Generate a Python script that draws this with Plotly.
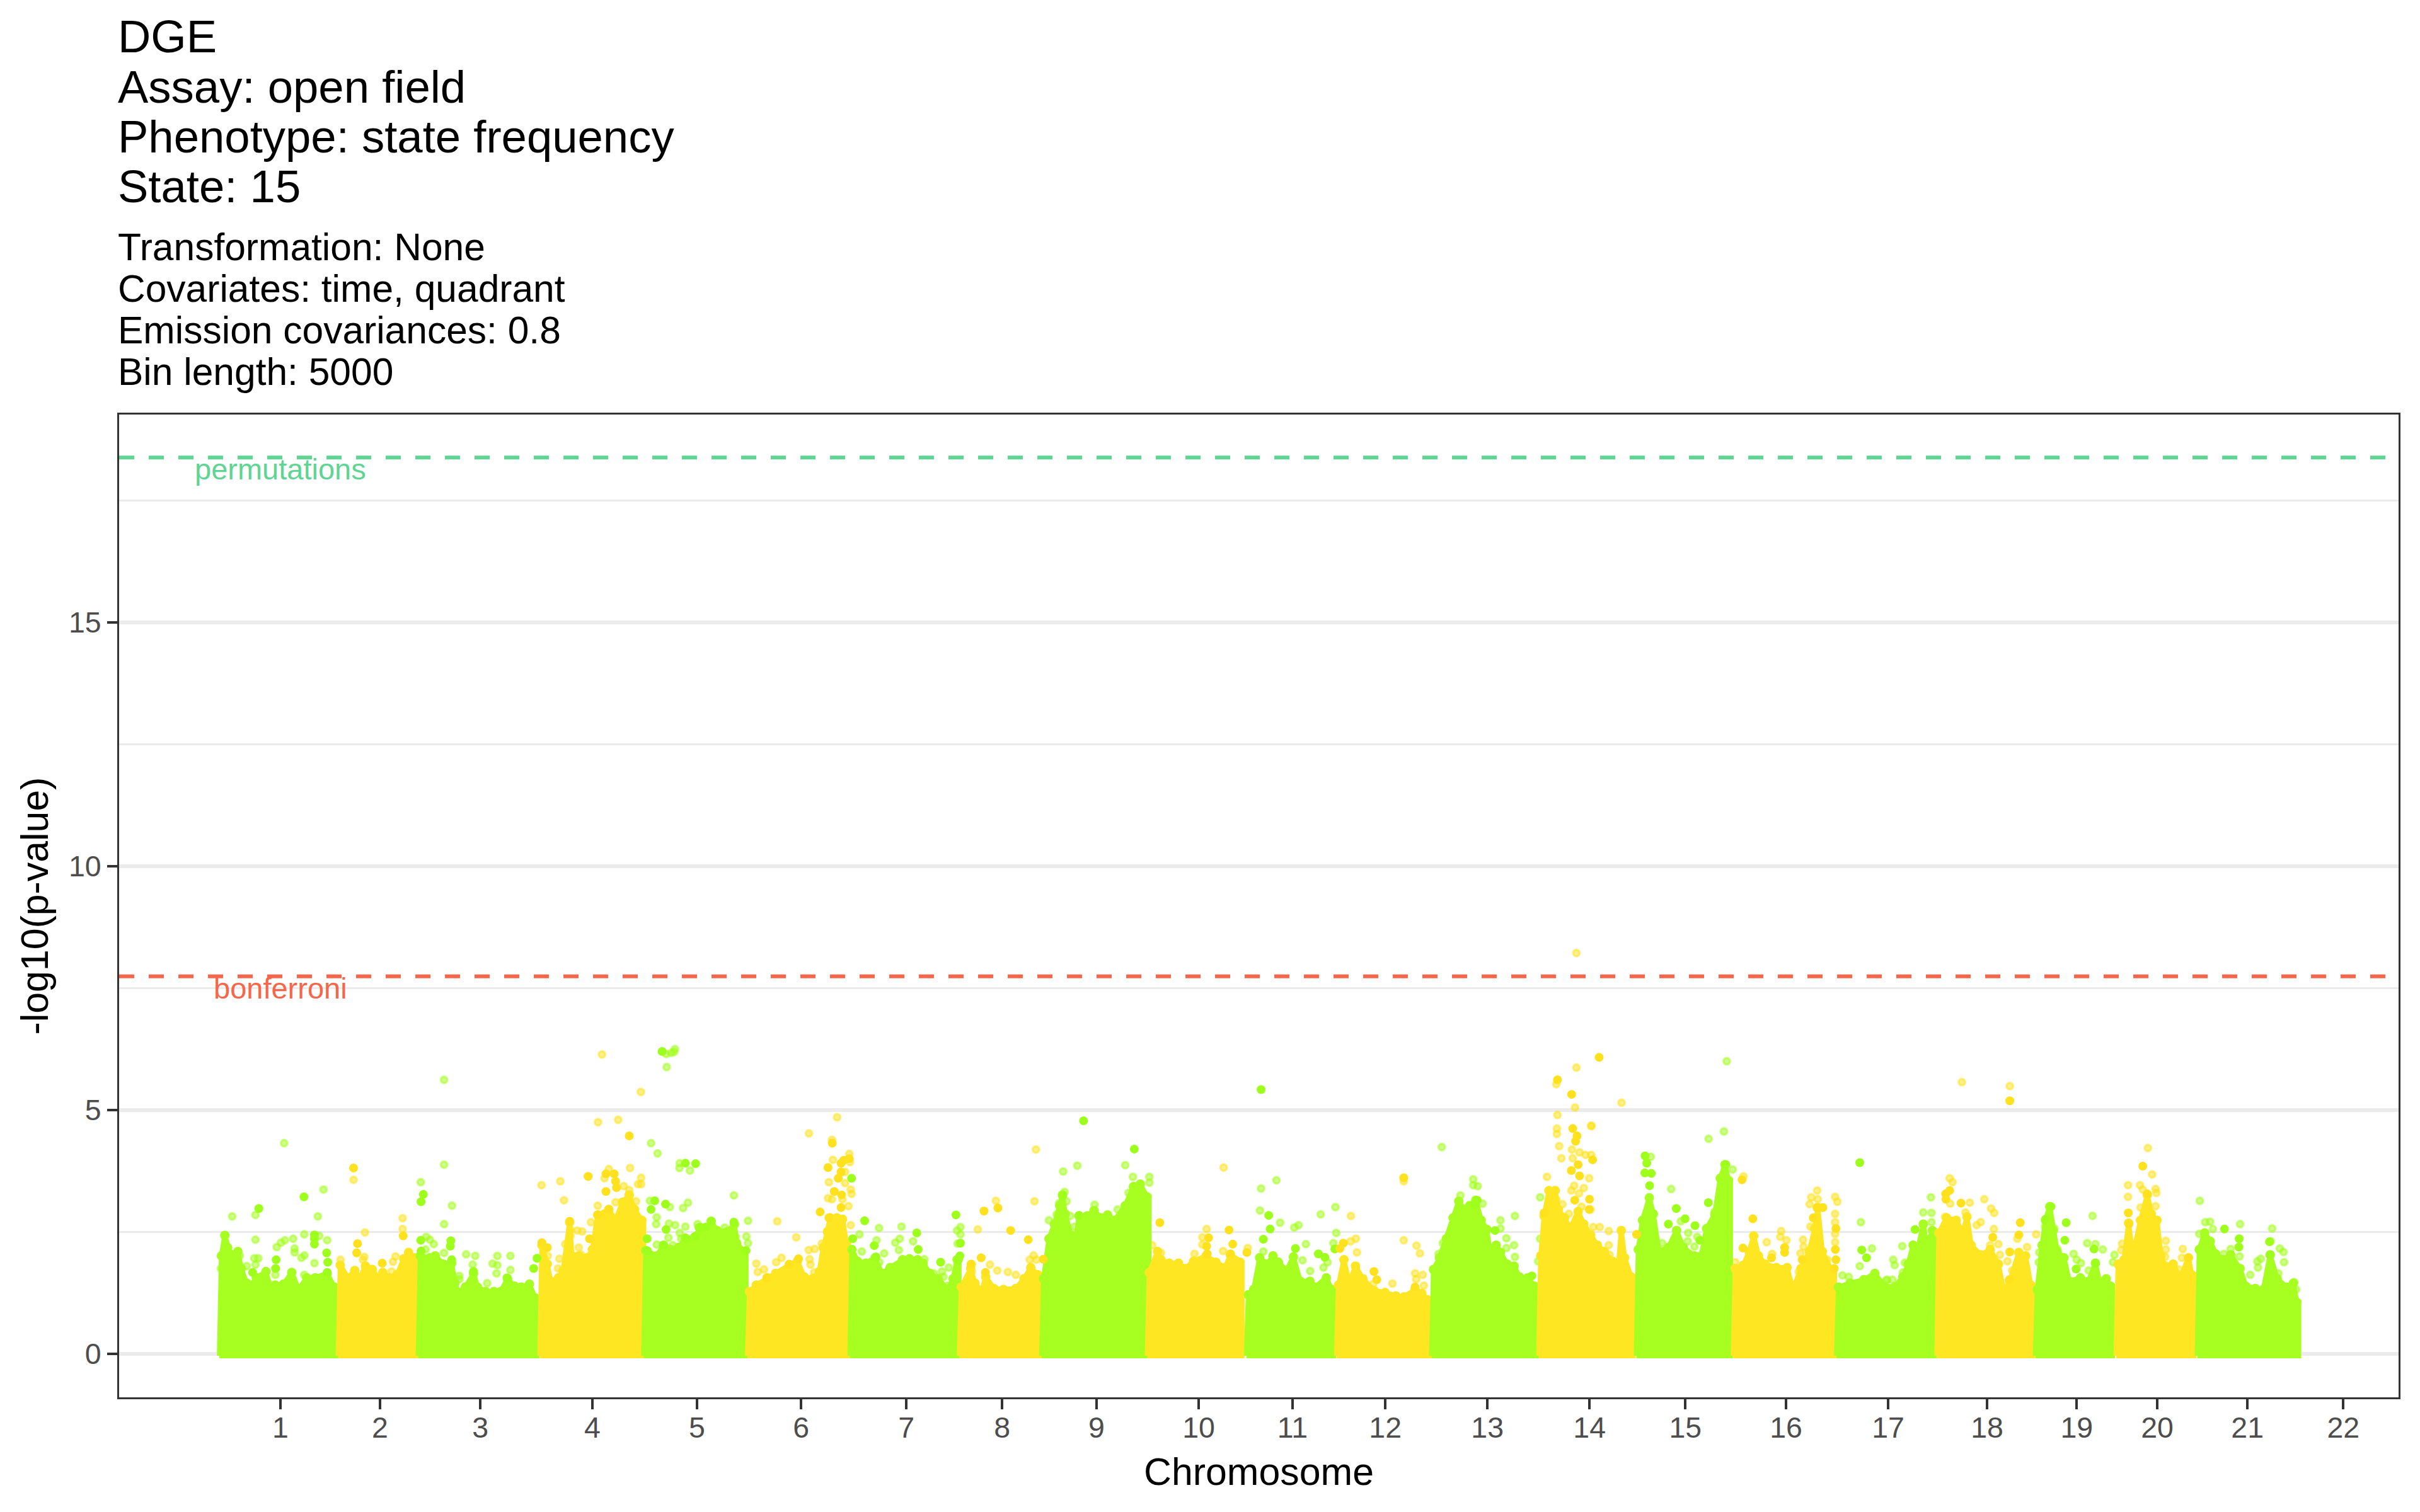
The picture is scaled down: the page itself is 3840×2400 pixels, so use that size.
import plotly.graph_objects as go

# upper edge of the point cloud per chromosome: (position in Mb, -log10 p)
chr1_top = [(1.4,2.01),(2.6,2.43),(3.6,2.18),(4.35,2.05),(6.0,1.97),(7.2,2.10),(8.4,1.75),(10.3,1.45),(12.25,1.41),(13.7,1.56),(15.6,1.58),(17.1,1.69),(18.5,1.37),(20.4,1.41),(23.3,1.43),(26.2,1.67),(28.6,1.32),(31.5,1.56),(34.4,1.56),(38.7,1.65),(41.2,1.37)]
chr2_top = [(43.3,1.82),(46.0,1.56),(48.4,1.71),(50.3,1.56),(52.2,1.80),(54.6,1.73),(56.6,1.56),(58.3,1.67),(60.4,1.56),(63.3,1.62),(65.7,1.95),(67.4,2.08),(69.6,1.97)]
chr3_top = [(71.5,2.01),(74.9,1.97),(76.8,2.01),(79.7,1.84),(82.6,1.86),(83.7,1.45),(85.0,1.26),(87.4,1.37),(90.3,1.65),(91.7,1.37),(94.6,1.28),(97.5,1.28),(99.9,1.28),(102.3,1.54),(104.7,1.39),(107.1,1.37),(110.0,1.43),(112.0,1.15)]
chr4_top = [(114.4,2.23),(116.3,1.84),(117.5,1.49),(120.2,1.56),(121.9,1.71),(124.2,2.70),(125.0,2.01),(127.4,2.01),(130.3,1.97),(132.2,2.14),(134.1,2.85),(136.5,2.87),(138.0,2.96),(140.4,2.74),(142.8,3.11),(145.2,3.26),(147.1,2.96),(149.6,2.74)]
chr5_top = [(151.0,2.12),(154.9,2.01),(157.3,2.23),(159.7,2.14),(162.6,2.18),(165.0,2.36),(168.3,2.40),(170.3,2.59),(172.7,2.36),(174.1,2.72),(176.1,2.53),(179.9,2.51),(182.3,2.66),(183.1,2.27),(185.7,2.10)]
chr6_top = [(187.6,1.28),(190.0,1.41),(193.9,1.56),(196.8,1.65),(201.6,1.82),(204.5,1.90),(206.9,1.58),(209.8,1.54),(212.2,1.69),(213.6,2.18),(215.1,2.51),(216.0,2.79),(218.4,2.79),(220.4,2.76),(221.8,2.27)]
chr7_top = [(223.7,2.14),(225.7,1.90),(228.6,1.86),(231.9,1.97),(234.3,1.65),(237.2,1.77),(241.6,1.93),(244.0,1.95),(246.9,1.93),(248.8,1.86),(251.2,1.65),(254.1,1.54),(257.5,1.32),(259.4,1.54),(260.8,1.93)]
chr8_top = [(262.3,1.37),(265.6,1.75),(267.1,1.45),(269.5,1.28),(270.9,1.58),(273.8,1.34),(277.2,1.32),(281.5,1.34),(284.4,1.54),(286.8,1.77),(289.3,1.62)]
chr9_top = [(291.3,1.54),(293.2,2.36),(295.1,2.66),(297.0,3.04),(298.0,3.26),(298.9,2.87),(300.9,2.44),(302.8,2.36),(303.8,2.83),(306.6,2.83),(309.1,2.94),(311.5,2.79),(313.9,2.85),(316.3,2.74),(320.1,3.04),(323.0,3.43),(325.4,3.48),(327.8,3.22)]
chr10_top = [(328.6,1.67),(331.5,2.10),(332.7,1.93),(335.6,1.86),(338.9,1.86),(341.3,1.75),(344.2,1.90),(348.6,2.01),(352.1,1.88),(355.3,1.77),(357.2,2.03),(360.6,1.88)]
chr11_top = [(363.5,1.21),(365.4,1.32),(367.5,1.97),(370.2,1.84),(372.2,2.01),(374.1,1.88),(377.0,1.71),(379.4,1.99),(381.8,1.49),(385.2,1.49),(387.1,1.37),(391.0,1.56),(392.9,1.32)]
chr12_top = [(395.3,1.41),(397.2,1.93),(399.1,1.45),(401.3,1.80),(403.9,1.54),(407.8,1.30),(411.7,1.26),(415.5,1.19),(418.4,1.17),(422.3,1.32),(424.7,1.24),(426.6,1.11)]
chr13_top = [(428.8,1.73),(430.9,1.97),(433.3,2.36),(435.7,2.79),(437.7,3.13),(439.6,2.96),(441.5,3.04),(443.7,3.15),(445.6,2.74),(447.6,2.55),(448.5,2.18),(450.9,2.23),(452.4,2.08),(454.8,1.84),(457.2,1.80),(459.1,1.58),(462.0,1.56),(464.4,1.39)]
chr14_top = [(466.6,2.01),(467.8,2.83),(469.5,3.35),(471.7,3.35),(472.8,2.96),(475.0,2.79),(477.0,2.57),(479.8,2.92),(481.8,2.66),(484.2,2.44),(486.6,2.23),(489.0,2.10),(491.9,1.90),(493.8,1.67),(495.0,2.53),(496.2,1.97),(498.5,1.58)]
chr15_top = [(501.0,2.14),(502.5,2.74),(504.9,3.20),(506.3,2.87),(508.3,2.10),(511.6,2.18),(514.5,2.53),(516.9,2.18),(520.8,2.01),(523.2,2.01),(525.1,2.57),(528.0,2.87),(529.9,3.60),(531.6,3.88),(532.8,3.56)]
chr16_top = [(535.2,1.75),(538.1,1.82),(540.1,2.10),(541.7,2.42),(543.4,2.01),(545.8,1.84),(549.7,1.77),(553.5,1.77),(555.5,1.32),(558.4,1.75),(561.3,2.10),(563.2,2.57),(564.3,3.00),(565.9,2.10),(569.5,1.67)]
chr17_top = [(571.6,1.37),(575.7,1.45),(580.5,1.52),(584.4,1.65),(587.7,1.39),(591.4,1.37),(594.3,1.58),(596.2,1.84),(597.9,2.23),(599.6,2.14),(601.5,2.66),(602.9,2.18),(604.7,2.53)]
chr18_top = [(607.0,2.48),(609.7,2.79),(613.1,2.74),(615.5,2.48),(616.9,2.81),(618.4,2.23),(621.7,2.03),(625.1,2.14),(628.0,1.84),(629.9,1.28),(632.0,1.49),(635.2,2.08),(637.6,2.01),(639.4,1.41)]
chr19_top = [(641.7,1.32),(643.4,2.23),(644.6,2.74),(646.1,3.02),(647.3,2.53),(648.7,2.10),(651.1,1.97),(653.0,1.49),(656.9,1.56),(659.8,1.49),(662.2,1.86),(663.6,1.49),(666.0,1.54),(667.5,1.39)]
chr20_top = [(670.2,1.84),(672.3,1.93),(673.9,2.68),(675.4,2.01),(678.1,2.74),(680.5,3.26),(681.9,2.87),(683.9,2.74),(685.3,2.01),(686.8,1.80),(689.6,1.84),(692.1,1.56),(695.0,1.97),(696.2,1.62)]
chr21_top = [(698.8,2.14),(700.7,2.48),(702.7,2.31),(704.6,2.05),(707.0,1.93),(709.9,2.03),(713.2,1.75),(715.2,1.39),(718.6,1.34),(721.4,1.32),(723.8,2.03),(726.3,1.54),(729.6,1.37),(732.0,1.45),(733.2,1.06)]

# single points above the cloud, faint = one point, solid = several stacked
faint_green = [
    (5.2,2.82),(13.4,2.85),(23.5,4.32),(37.4,3.37),(35.4,2.82),(30.6,2.45),(13.4,2.34),(26.7,2.36),(23.8,2.33),(22.4,2.28),(20.9,2.19),(27.2,2.16),(27.2,2.08),(30.7,2.02),(29.6,1.97),(38.7,2.33),(35.9,2.42),(13.0,1.96),(14.4,1.96),(13.4,1.83),(10.3,1.80),(34.2,1.86),(20.4,1.62),(30.6,1.62),(7.9,2.01),(1.2,1.75),(18.0,1.45),
    (79.9,5.62),(79.9,3.88),(71.7,3.52),(82.7,3.04),(79.9,2.66),(73.6,2.40),(74.9,2.34),(76.3,2.25),(79.9,2.07),(87.7,2.04),(90.9,2.01),(98.7,2.01),(103.3,2.01),(97.0,1.85),(98.7,1.82),(90.0,1.83),(103.3,1.72),(98.4,1.65),(85.3,1.60),(85.3,1.53),(95.1,1.45),(73.4,2.14),
    (158.2,6.15),(160.0,6.17),(161.3,6.25),(161.0,6.19),(158.4,5.88),(152.9,4.32),(155.2,4.11),(163.0,3.91),(162.9,3.81),(166.6,3.76),(182.1,3.25),(165.9,3.10),(164.2,2.99),(159.5,3.01),(154.9,2.80),(154.7,2.66),(187.1,2.73),(159.2,2.67),(161.4,2.64),(165.0,2.61),(169.3,2.66),(186.5,2.41),(187.1,2.27),(154.9,2.24),(159.0,2.38),(163.0,2.48),(163.5,2.36),(171.7,2.42),(174.1,2.42),(178.9,2.59),(182.8,2.40),(160.6,2.23),(152.5,3.14),
    (233.3,2.58),(241.2,2.61),(240.6,2.36),(239.0,2.28),(245.3,2.31),(240.3,2.13),(232.4,2.33),(226.4,2.45),(227.2,2.10),(235.1,2.06),(249.3,1.94),(233.4,1.88),(257.9,1.77),(255.5,1.69),(256.0,1.58),(257.5,1.40),(252.6,1.65),(262.0,2.60),(260.8,2.53),(262.0,2.45),(261.0,2.26),
    (298.2,3.74),(303.2,3.86),(320.1,3.87),(322.8,3.63),(328.6,3.63),(328.6,3.51),(321.3,3.30),(298.7,3.32),(293.2,2.74),(295.9,2.86),(309.3,3.06),(317.4,2.96),(299.4,3.13),(296.8,3.09),(302.3,2.61),(301.5,2.44),(300.7,2.83),
    (373.4,3.56),(368.0,3.39),(367.6,2.94),(374.7,2.69),(379.7,2.59),(381.2,2.64),(389.0,2.86),(394.2,3.01),(394.5,2.48),(383.8,2.25),(393.5,2.27),(382.6,1.92),(391.4,1.88),(390.0,1.77),(385.3,1.70),(368.8,2.10),
    (431.7,4.24),(438.3,3.25),(442.8,3.58),(442.8,3.46),(432.1,2.27),(430.6,2.05),(444.4,3.44),(446.1,3.08),(452.4,2.74),(452.4,2.57),(457.5,2.83),(454.5,2.37),(457.2,2.23),(454.5,2.17),(457.5,1.99),(466.4,3.21),(466.4,2.36),(465.7,1.90),
    (525.8,4.41),(531.2,4.56),(532.2,6.00),(512.6,3.38),(505.4,4.04),(534.3,3.78),(529.5,3.11),(528.0,2.92),(516.0,2.72),(518.6,2.48),(521.8,2.40),(509.4,2.27),(518.4,2.31),(520.8,2.20),
    (579.5,2.70),(583.4,2.16),(573.0,1.61),(575.2,1.58),(588.7,1.52),(579.1,1.80),(604.2,3.21),(601.5,2.90),(604.4,2.89),(604.4,2.70),(594.1,2.21),(590.9,1.93),(591.4,1.82),(588.5,1.51),(590.6,1.52),(595.0,1.87),(594.3,1.67),
    (661.2,2.83),(659.3,2.27),(662.2,2.25),(664.8,2.14),(654.5,2.05),(655.6,1.93),(657.1,1.86),(668.9,2.03),(668.4,1.88),(647.7,2.57),(644.4,2.61),(648.7,2.16),(642.4,2.08),(642.2,1.88),(659.8,1.71),
    (699.0,3.14),(700.9,2.70),(702.6,2.71),(703.6,2.56),(713.2,2.66),(724.5,2.57),(698.8,2.46),(709.9,2.15),(707.5,2.05),(713.0,2.00),(727.2,2.16),(728.5,2.09),(719.3,1.90),(720.5,1.95),(719.5,1.77),(716.8,1.62),(726.7,1.65),(728.7,1.88),(732.3,1.47),(733.0,1.32),(724.0,2.31),
]
solid_green = [
    (14.6,2.98),(30.5,3.22),(34.2,2.44),(34.2,2.36),(34.2,2.25),(38.5,2.07),(38.9,1.88),(20.7,1.93),(20.5,1.75),(38.7,1.67),(12.4,1.67),
    (72.6,3.27),(71.8,3.12),(71.7,2.33),(82.3,2.32),(82.1,2.21),(71.8,2.11),(82.6,1.93),(90.3,1.69),(102.1,1.56),(112.7,1.96),(111.5,1.75),
    (156.8,6.20),(165.0,3.91),(168.6,3.90),(154.2,3.14),(158.0,3.07),(152.9,2.96),(158.2,2.55),(151.5,2.36),(151.7,2.11),(182.1,2.70),(169.8,2.59),(172.2,2.60),(174.1,2.72),(157.3,2.23),(165.0,2.38),(168.6,2.41),(186.4,2.12),(223.6,3.60),(224.0,2.36),
    (228.2,2.73),(246.6,2.48),(231.6,2.22),(247.1,2.14),(232.2,1.99),(255.0,1.88),(260.4,2.85),(262.0,2.27),(261.8,2.01),(261.3,1.93),
    (305.4,4.78),(323.3,4.20),(298.0,3.24),(303.8,2.84),
    (370.7,2.84),(371.2,2.56),(368.8,2.35),(380.1,2.16),(388.2,2.05),(390.5,1.98),(394.0,2.15),(368.0,5.42),
    (444.2,3.15),(450.5,2.53),(443.2,3.05),(463.5,1.60),
    (503.4,4.06),(504.0,3.91),(503.3,3.71),(505.6,3.70),(505.0,3.45),(514.4,2.98),(525.7,3.10),(517.5,2.77),(521.0,2.63),(511.6,2.66),(522.7,2.33),(531.9,3.88),
    (579.1,3.92),(579.8,2.13),(581.5,1.97),(598.6,2.55),
    (646.5,3.02),(651.9,2.69),(651.4,2.33),(661.7,2.15),(662.2,1.86),(655.4,1.74),(644.6,2.76),
    (707.7,2.56),(712.9,2.36),(712.8,2.19),(723.6,2.30),(723.9,2.03),
]
faint_yellow = [
    (48.0,3.57),(65.3,2.78),(65.3,2.56),(52.0,2.49),(51.8,1.99),(51.3,1.93),(43.4,1.93),(61.9,1.89),(62.8,2.00),(61.4,1.69),
    (114.3,3.46),(120.9,3.54),(122.2,3.15),(134.2,4.75),(141.3,4.80),(135.6,6.14),(149.3,5.37),(145.5,3.81),(138.0,3.79),(136.5,3.60),(143.3,3.44),(145.2,3.36),(147.6,3.13),(140.4,3.11),(134.1,3.04),(131.7,2.70),(126.9,2.53),(128.6,2.51),(124.5,2.55),(124.5,2.42),(122.6,2.25),(127.4,2.18),(128.3,2.03),(124.0,2.05),(120.6,1.95),(120.1,1.75),(116.5,2.01),(148.3,3.48),(149.4,3.61),(149.4,3.48),
    (208.6,4.52),(216.7,4.39),(218.5,4.85),(217.0,3.98),(222.8,4.10),(223.0,3.93),(215.6,3.52),(221.3,3.73),(221.3,3.50),(223.3,3.37),(223.6,3.28),(215.3,3.19),(216.7,3.17),(220.4,3.17),(222.5,3.03),(197.4,2.72),(204.1,2.39),(208.5,2.13),(210.6,2.15),(213.1,2.26),(198.9,1.97),(197.0,1.88),(208.8,1.94),(209.1,1.83),(190.0,1.85),(192.7,1.73),(190.5,1.68),(210.4,1.67),(223.3,2.64),
    (274.5,3.14),(288.1,3.13),(288.6,4.19),(268.1,2.55),(272.4,1.83),(275.0,1.71),(278.7,1.68),(281.5,1.62),(286.4,1.93),(287.8,2.02),(288.8,1.93),(266.0,1.69),(266.1,1.84),
    (354.8,3.82),(348.8,2.56),(347.3,2.39),(347.3,2.24),(354.6,2.11),(344.5,2.05),(363.3,2.17),(329.6,2.23),(332.7,2.07),
    (418.3,3.54),(399.7,2.83),(401.4,2.36),(399.6,2.31),(401.8,2.08),(418.3,2.33),(422.8,2.22),(424.0,2.06),(414.3,1.44),(422.3,1.65),(425.0,1.62),(422.7,1.53),(425.4,1.40),(407.5,1.43),
    (479.2,8.22),(479.2,5.87),(472.1,5.53),(478.7,5.05),(472.5,4.90),(495.1,5.15),(484.5,4.68),(472.3,4.62),(472.3,4.51),(484.4,4.67),(473.1,4.26),(477.6,4.19),(473.9,4.01),(480.3,4.13),(482.4,4.08),(484.4,4.08),(477.9,4.01),(468.8,3.63),(483.7,3.60),(478.4,3.45),(477.4,3.35),(481.8,3.40),(480.1,3.29),(472.1,3.17),(474.3,3.07),(476.5,2.87),(481.0,3.02),(484.2,2.96),(485.1,2.60),(487.4,2.60),(490.6,2.52),(490.6,2.23),(490.9,2.03),(468.3,2.57),(492.2,1.90),(492.7,1.75),
    (538.1,3.64),(546.3,2.29),(551.4,2.52),(551.1,2.40),(553.3,2.33),(548.2,2.05),(559.1,2.34),(559.3,2.20),(558.2,2.06),(564.1,3.35),(562.0,3.21),(564.3,3.17),(561.4,3.07),(570.4,3.22),(571.2,3.12),(570.4,2.87),(570.4,2.70),(570.4,2.46),(567.7,1.93),(557.6,1.68),(535.2,1.88),(561.7,2.61),(570.4,2.29),
    (610.8,3.60),(611.8,3.52),(611.0,3.08),(617.9,3.10),(623.0,3.17),(625.4,2.98),(626.5,2.89),(626.4,2.56),(621.7,2.70),(620.3,2.64),(625.1,2.23),(628.0,2.25),(628.5,2.03),(631.2,1.90),(632.8,1.71),(641.3,2.45),(609.2,2.81),(616.4,2.90),(634.7,2.36),(638.1,2.19),(615.1,5.57),(632.0,5.49),
    (680.7,4.22),(682.2,3.68),(673.7,3.46),(673.7,3.22),(677.9,3.46),(678.9,3.37),(683.4,3.38),(683.7,3.30),(678.1,3.00),(683.4,3.03),(687.0,2.32),(687.0,2.14),(693.0,2.15),(692.7,1.97),(686.8,1.99),(671.6,2.26),(671.3,2.13),(691.6,1.73),
]
solid_yellow = [
    (48.0,3.81),(65.5,2.42),(49.4,2.26),(49.1,2.07),(58.1,1.86),
    (145.2,4.47),(130.7,3.64),(137.0,3.69),(139.9,3.69),(140.4,3.54),(140.7,3.41),(137.0,3.33),(124.2,2.72),(131.2,2.36),(116.3,2.18),(114.4,2.28),(138.0,2.96),(134.1,2.85),
    (216.8,4.32),(222.8,4.00),(220.8,3.97),(219.9,3.91),(215.3,3.82),(219.9,3.73),(218.9,3.60),(217.5,3.33),(220.1,3.26),(219.9,3.00),(212.5,2.91),(215.6,2.79),(204.9,1.95),(201.6,1.84),(193.7,1.56),
    (270.3,2.93),(275.2,2.99),(279.7,2.53),(285.9,2.34),(269.3,1.97),(265.7,1.84),(270.8,1.67),(291.2,1.94),
    (332.3,2.69),(356.7,2.54),(349.5,2.38),(358.0,2.25),(348.8,2.21),(363.0,2.08),(349.0,2.05),(357.2,2.05),
    (418.3,3.61),(397.0,2.27),(395.8,2.16),(407.8,1.69),(408.8,1.52),(422.3,1.37),
    (472.5,5.62),(477.5,5.32),(487.2,6.08),(477.9,4.62),(479.4,4.47),(478.9,4.36),(479.8,3.88),(477.4,3.76),(480.3,3.65),(484.9,3.98),(478.6,3.15),(483.8,3.17),(483.7,2.96),(467.8,2.89),(500.4,2.45),
    (537.6,3.57),(541.4,2.77),(566.1,3.00),(564.0,3.00),(562.7,2.79),(537.9,2.17),(552.6,2.18),(552.6,2.08),(548.0,1.97),(558.8,1.93),(570.7,2.57),(570.5,2.14),(570.7,1.93),(570.1,1.75),
    (609.4,3.28),(610.8,3.35),(609.5,3.17),(614.8,3.09),(635.7,2.69),(635.2,2.44),(632.0,2.09),(626.0,2.39),(631.8,1.52),(632.0,5.19),
    (678.9,3.85),(673.8,2.89),(674.0,2.66),(695.0,1.97),(680.5,3.28),
]

chrom_labels = [str(i) for i in range(1, 23)]
chrom_ticks = [22.2,57.3,92.7,132.2,169.1,205.8,242.9,276.7,310.0,346.0,379.1,411.8,447.8,483.8,517.6,553.1,589.1,624.0,655.6,684.0,715.8,749.6]
permutations_line = 18.38
bonferroni_line = 7.74

title_lines = ['DGE', 'Assay: open field', 'Phenotype: state frequency', 'State: 15']
subtitle_lines = ['Transformation: None', 'Covariates: time, quadrant', 'Emission covariances: 0.8', 'Bin length: 5000']

GREEN = 'rgb(166,255,32)'
YELLOW = 'rgb(255,230,35)'
FONT = 'Liberation Sans'

PANEL_LEFT = 189
PANEL_RIGHT = 3806
PANEL_TOP = 658
PANEL_BOTTOM = 2218


def paper_y(px):
    return (PANEL_BOTTOM - px) / (PANEL_BOTTOM - PANEL_TOP)


def split(points):
    return [p[0] for p in points], [p[1] for p in points]


def faint_trace(points, rgb):
    x, y = split(points)
    return go.Scatter(x=x, y=y, mode='markers', hoverinfo='skip',
                      marker=dict(size=10.5, color=f'rgba({rgb},0.5)',
                                  line=dict(width=3.5, color=f'rgba({rgb},0.5)')))


def solid_trace(points, color):
    x, y = split(points)
    return go.Scatter(x=x, y=y, mode='markers', hoverinfo='skip',
                      marker=dict(size=14, color=color, line=dict(width=0)))


fig = go.Figure()

fig.add_trace(faint_trace(faint_green, '160,255,20'))
fig.add_trace(faint_trace(faint_yellow, '255,225,20'))

chroms = [chr1_top, chr2_top, chr3_top, chr4_top, chr5_top, chr6_top, chr7_top,
          chr8_top, chr9_top, chr10_top, chr11_top, chr12_top, chr13_top, chr14_top,
          chr15_top, chr16_top, chr17_top, chr18_top, chr19_top, chr20_top, chr21_top]
for i, top in enumerate(chroms):
    color = GREEN if i % 2 == 0 else YELLOW
    x, y = split(top)
    # polygon down to the baseline, big markers on a thinner line leave the bumpy point edge
    left, right = x[0] - 0.7, x[-1] + 0.7
    fig.add_trace(go.Scatter(x=[left, x[0]] + x + [right, right, left],
                             y=[-0.04, y[0]] + y + [y[-1], -0.04, -0.04],
                             mode='lines', fill='toself', fillcolor=color, hoverinfo='skip',
                             line=dict(color=color, width=8)))
    fig.add_trace(go.Scatter(x=x, y=y, mode='markers', hoverinfo='skip',
                             marker=dict(color=color, size=15, line=dict(width=0))))

fig.add_trace(solid_trace(solid_green, 'rgb(158,255,28)'))
fig.add_trace(solid_trace(solid_yellow, 'rgb(255,225,30)'))

fig.add_hline(y=permutations_line, line=dict(color='rgb(96,212,146)', width=6, dash='24px,23px'))
fig.add_hline(y=bonferroni_line, line=dict(color='rgb(245,102,74)', width=6, dash='24px,23px'))

annotations = [
    dict(x=chrom_ticks[0], y=18.14, xref='x', yref='y', text='permutations', showarrow=False,
         font=dict(family=FONT, size=47, color='rgb(96,212,146)')),
    dict(x=chrom_ticks[0], y=7.5, xref='x', yref='y', text='bonferroni', showarrow=False,
         font=dict(family=FONT, size=47, color='rgb(245,102,74)')),
]
text_left = -3 / (PANEL_RIGHT - PANEL_LEFT)
for line, px in zip(title_lines, [57, 137, 217, 296]):
    annotations.append(dict(x=text_left, y=paper_y(px), xref='paper', yref='paper', text=line,
                            xanchor='left', yanchor='middle', showarrow=False, borderpad=0,
                            font=dict(family=FONT, size=72.5, color='black')))
for line, px in zip(subtitle_lines, [392, 458, 524, 590]):
    annotations.append(dict(x=text_left, y=paper_y(px), xref='paper', yref='paper', text=line,
                            xanchor='left', yanchor='middle', showarrow=False, borderpad=0,
                            font=dict(family=FONT, size=60.5, color='black')))

fig.update_layout(
    width=3840, height=2400,
    margin=dict(l=PANEL_LEFT, r=3840 - PANEL_RIGHT, t=PANEL_TOP, b=2400 - PANEL_BOTTOM, autoexpand=False),
    paper_bgcolor='white', plot_bgcolor='white',
    showlegend=False,
    annotations=annotations,
    font=dict(family=FONT),
    xaxis=dict(range=[-34.67, 769.1], tickmode='array', tickvals=chrom_ticks, ticktext=chrom_labels,
               showgrid=False, zeroline=False, showline=True, mirror=True,
               linecolor='#333333', linewidth=3,
               ticks='outside', ticklen=16, tickwidth=4, tickcolor='#333333',
               ticklabelstandoff=-11,
               tickfont=dict(family=FONT, size=46.5, color='#4d4d4d'),
               title=dict(text='Chromosome', standoff=24, font=dict(family=FONT, size=60.8, color='black'))),
    yaxis=dict(range=[-0.891, 19.26], tickmode='array', tickvals=[0, 5, 10, 15], ticktext=['0', '5', '10', '15'],
               showgrid=True, gridcolor='#ebebeb', gridwidth=5.5, zeroline=False,
               showline=True, mirror=True, linecolor='#333333', linewidth=3,
               ticks='outside', ticklen=16, tickwidth=4, tickcolor='#333333',
               tickfont=dict(family=FONT, size=46.5, color='#4d4d4d'),
               minor=dict(tickvals=[2.5, 7.5, 12.5, 17.5], showgrid=True, gridcolor='#ebebeb', gridwidth=3, ticks=''),
               title=dict(text='-log10(p-value)', standoff=13, font=dict(family=FONT, size=60.8, color='black'))),
)

fig.write_html("out.html", config=dict(displayModeBar=False), post_script="document.body.style.margin='0';")
